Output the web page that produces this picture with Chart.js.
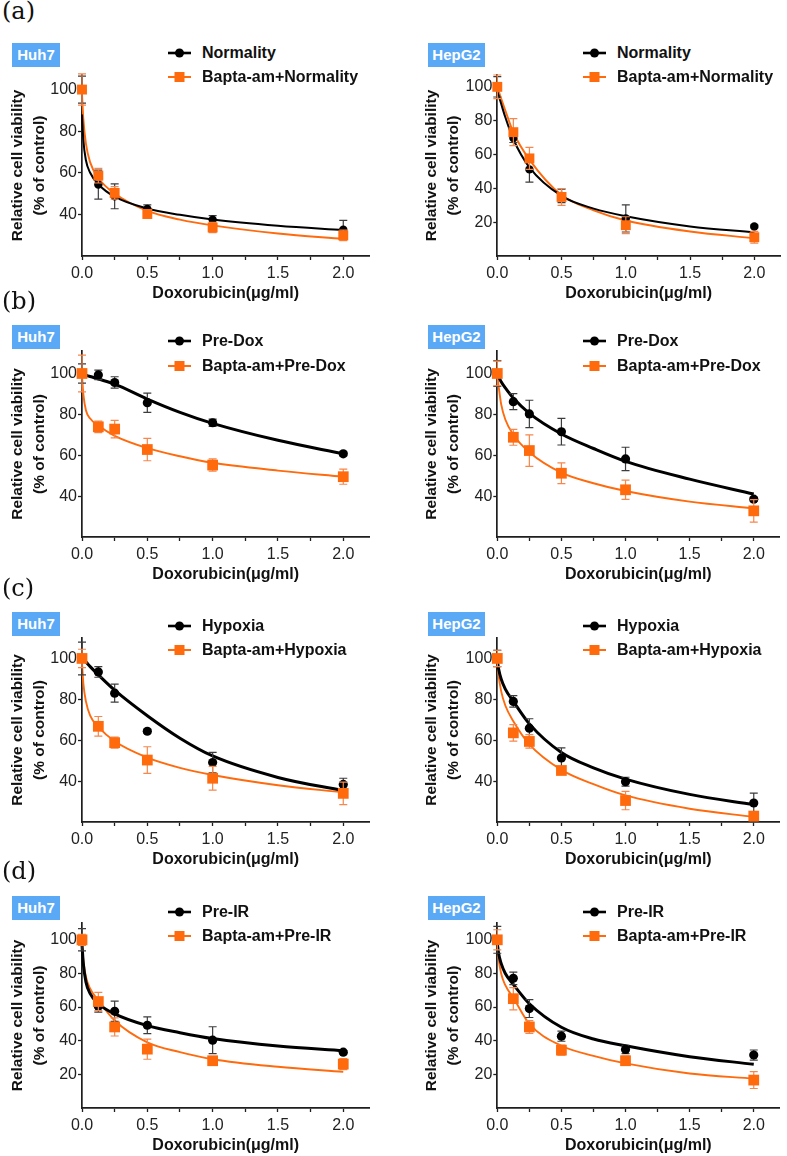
<!DOCTYPE html>
<html>
<head>
<meta charset="utf-8">
<script src="https://cdn.jsdelivr.net/npm/chart.js@4.4.1/dist/chart.umd.min.js"></script>
<style>
  body { margin: 0; background: #fff; width: 787px; height: 1156px; position: relative; overflow: hidden;
         font-family: "Liberation Sans", Arial, sans-serif; }
  canvas { position: absolute; }
  .tag { position: absolute; font-family: "DejaVu Serif", serif; font-size: 24px; color: #111; line-height: 24px; }
  .cell { position: absolute; background: #5aa9f6; color: #fff; font-weight: bold; font-size: 15px;
          height: 24px; line-height: 24px; text-align: center; }
  .leg { position: absolute; height: 20px; font-weight: bold; font-size: 16px; color: #111;
         white-space: nowrap; line-height: 20px; }
  .leg svg { position: absolute; left: 0; top: 3px; }
  .leg span { position: absolute; top: 0; }
</style>
</head>
<body>
<script>
const doses = [0, 0.125, 0.25, 0.5, 1, 2];
const fitDoses = [0, 0.01, 0.03, 0.0625, 0.125, 0.25, 0.5, 0.75, 1, 1.5, 2];
const xTickValues = [0, 0.25, 0.5, 0.75, 1, 1.25, 1.5, 1.75, 2];
const xTickLabels = ['0.0', '', '0.5', '', '1.0', '', '1.5', '', '2.0'];
const yTickValues = [20, 40, 60, 80, 100];
const rowTags = ['(a)', '(b)', '(c)', '(d)'];
const cellLines = ['Huh7', 'HepG2'];
const treatments = ['Normality', 'Pre-Dox', 'Hypoxia', 'Pre-IR'];

// (a) normality
const huh7NormMean = [100, 54.3, 48.7, 42.6, 37.4, 32.6];
const huh7NormSd = [6.5, 7, 6, 2, 2, 4.5];
const huh7NormFit = [88, 76, 66, 60, 54.5, 48.5, 42.8, 39.8, 37.5, 34.5, 32.4];
const huh7BaptaNormMean = [100, 58.6, 50.3, 40.2, 33.7, 29.9];
const huh7BaptaNormSd = [7.5, 3.5, 3, 2, 2.5, 2.5];
const huh7BaptaNormFit = [98, 86, 74, 65, 57.5, 50, 41.7, 37.5, 34.7, 30.8, 28.2];
const hepg2NormMean = [100, 69.8, 51.2, 35.5, 22.2, 17.4];
const hepg2NormSd = [6, 2.7, 7.5, 4, 8, 0.8];
const hepg2NormFit = [97, 95, 90, 82, 69, 52.4, 35.5, 28, 23.5, 17.5, 14];
const hepg2BaptaNormMean = [100, 73.2, 57.7, 34.9, 18.2, 11.1];
const hepg2BaptaNormSd = [7, 8, 6.5, 5, 5, 3.5];
const hepg2BaptaNormFit = [99, 97.5, 93, 86, 73, 57, 36, 27, 21, 14.5, 10.5];

// (b) pre-dox
const huh7DoxMean = [100, 99.3, 95.6, 85.7, 75.9, 60.7];
const huh7DoxSd = [4.7, 2.3, 2.8, 4.7, 1.8, 1];
const huh7DoxFit = [100, 99.7, 99.2, 98.5, 97.3, 94.8, 87.5, 81, 75.6, 67.3, 60.7];
const huh7BaptaDoxMean = [100, 73.9, 72.8, 62.8, 55.2, 49.5];
const huh7BaptaDoxSd = [9, 2.8, 4.3, 5.5, 3, 3.7];
const huh7BaptaDoxFit = [99, 90, 82, 78, 74.5, 69.5, 63.5, 59.5, 56.3, 52.5, 49.5];
const hepg2DoxMean = [100, 86.2, 80.2, 71.5, 58.2, 38.5];
const hepg2DoxSd = [6.3, 3.9, 6.7, 6.5, 5.7, 1];
const hepg2DoxFit = [100, 98.5, 96, 93, 88, 80.5, 70.4, 63.3, 57, 48.3, 41];
const hepg2BaptaDoxMean = [100, 68.8, 62.3, 51.2, 43.1, 32.8];
const hepg2BaptaDoxSd = [6, 3.9, 7.7, 5.1, 4.7, 5.5];
const hepg2BaptaDoxFit = [99, 94, 85, 77.5, 70, 61.5, 51.5, 46.3, 42.5, 37.3, 34];

// (c) hypoxia
const huh7HypMean = [100, 93.4, 83, 64.4, 49.1, 38.4];
const huh7HypSd = [8, 2.6, 4.4, 1, 5, 3];
const huh7HypFit = [100, 99.5, 98.3, 96, 92, 84.5, 72, 61, 52.3, 41.8, 35.3];
const huh7BaptaHypMean = [100, 66.8, 58.8, 50.3, 41.4, 34];
const huh7BaptaHypSd = [4.5, 4.8, 2.7, 6.5, 5.8, 5.5];
const huh7BaptaHypFit = [98, 88, 79, 72, 66.5, 59.5, 51.5, 46.5, 43, 38, 34.5];
const hepg2HypMean = [100, 79, 65.9, 51.3, 39.7, 29.3];
const hepg2HypSd = [4, 2.8, 4.6, 5, 2.2, 4.8];
const hepg2HypFit = [99, 95, 90, 85, 79, 68, 54, 46.5, 41, 33.5, 28.5];
const hepg2BaptaHypMean = [100, 63.6, 59.4, 45.2, 30.5, 22.9];
const hepg2BaptaHypSd = [4, 4, 3.3, 1.4, 4.5, 2.2];
const hepg2BaptaHypFit = [99, 92, 84, 77, 69.3, 58, 45.5, 38.5, 33, 26.5, 22.5];

// (d) pre-IR
const huh7IrMean = [100, 60.5, 57.5, 49.2, 40.3, 33.2];
const huh7IrSd = [6.6, 3.5, 6, 5, 8, 1];
const huh7IrFit = [97, 86, 75, 68, 62, 56, 49, 44.8, 41.3, 36.8, 34];
const huh7BaptaIrMean = [100, 63.3, 48.2, 35, 28.1, 26.1];
const huh7BaptaIrSd = [3.3, 5.4, 5.4, 6, 1, 3.3];
const huh7BaptaIrFit = [98, 88, 78, 71, 64, 52, 39, 33.2, 29, 24.5, 21.5];
const hepg2IrMean = [100, 77.1, 59.1, 42.7, 34.8, 31.5];
const hepg2IrSd = [8, 3.7, 5.3, 3, 2.5, 3];
const hepg2IrFit = [98, 92, 86, 80, 73.5, 62, 48, 41, 37, 30.5, 26];
const hepg2BaptaIrMean = [100, 65, 48.2, 34.4, 28.1, 16.6];
const hepg2BaptaIrSd = [6, 6.6, 3.8, 3, 2.7, 5];
const hepg2BaptaIrFit = [97, 89, 80, 73, 65.5, 50, 37, 31, 26.5, 20.5, 17.5];

// [row][col] -> [control, bapta]
const panelData = [
  [[[huh7NormMean, huh7NormSd, huh7NormFit], [huh7BaptaNormMean, huh7BaptaNormSd, huh7BaptaNormFit]],
   [[hepg2NormMean, hepg2NormSd, hepg2NormFit], [hepg2BaptaNormMean, hepg2BaptaNormSd, hepg2BaptaNormFit]]],
  [[[huh7DoxMean, huh7DoxSd, huh7DoxFit], [huh7BaptaDoxMean, huh7BaptaDoxSd, huh7BaptaDoxFit]],
   [[hepg2DoxMean, hepg2DoxSd, hepg2DoxFit], [hepg2BaptaDoxMean, hepg2BaptaDoxSd, hepg2BaptaDoxFit]]],
  [[[huh7HypMean, huh7HypSd, huh7HypFit], [huh7BaptaHypMean, huh7BaptaHypSd, huh7BaptaHypFit]],
   [[hepg2HypMean, hepg2HypSd, hepg2HypFit], [hepg2BaptaHypMean, hepg2BaptaHypSd, hepg2BaptaHypFit]]],
  [[[huh7IrMean, huh7IrSd, huh7IrFit], [huh7BaptaIrMean, huh7BaptaIrSd, huh7BaptaIrFit]],
   [[hepg2IrMean, hepg2IrSd, hepg2IrFit], [hepg2BaptaIrMean, hepg2BaptaIrSd, hepg2BaptaIrFit]]]
];

// layout (pixels)
const rows = [
  { top: 75,  bottom: 256,  tagY: -1,  boxY: 43,  legY: [53, 77],   yMin: [20, 0],  yMax: 107, fitW: 2 },
  { top: 351, bottom: 537,  tagY: 289, boxY: 325, legY: [341, 366], yMin: [20, 20], yMax: 111, fitW: 3 },
  { top: 638, bottom: 822,  tagY: 576, boxY: 612, legY: [626, 650], yMin: [20, 20], yMax: 110, fitW: 3 },
  { top: 923, bottom: 1108, tagY: 859, boxY: 896, legY: [912, 936], yMin: [0, 0],   yMax: 110, fitW: 3 }
];
const cols = [
  { left: 0,   width: 390, axisW: 82,   rightPad: 20.6, boxX: 12,  boxW: 48, legX: 168, textX: 202 },
  { left: 414, width: 373, axisW: 83.3, rightPad: 3.7,  boxX: 428, boxW: 57, legX: 583, textX: 617 }
];

const BLACK = '#000000';
const ORANGE = '#ff6a0d';
const AXIS = '#1e1e1e';
const FONT = '"Liberation Sans", Arial, sans-serif';
const PAD_TOP = 12;
const X_AXIS_H = 47;

const errorBars = {
  id: 'errorBars',
  beforeDatasetDraw(chart, args) {
    const ds = chart.data.datasets[args.index];
    if (!ds.sd) return;
    const xs = chart.scales.x, ys = chart.scales.y, ctx = chart.ctx;
    ctx.save();
    ctx.strokeStyle = ds.errColor;
    ctx.lineWidth = 1.2;
    ds.data.forEach((p, i) => {
      const x = xs.getPixelForValue(p.x);
      const t = ys.getPixelForValue(p.y + ds.sd[i]);
      const b = ys.getPixelForValue(p.y - ds.sd[i]);
      ctx.beginPath();
      ctx.moveTo(x, t); ctx.lineTo(x, b);
      ctx.moveTo(x - 4, t); ctx.lineTo(x + 4, t);
      ctx.moveTo(x - 4, b); ctx.lineTo(x + 4, b);
      ctx.stroke();
    });
    ctx.restore();
  }
};

function pts(xs, ys) {
  return xs.map((x, i) => ({ x: x, y: ys[i] }));
}

function addDiv(cls, text, css) {
  const d = document.createElement('div');
  d.className = cls;
  if (text) d.textContent = text;
  Object.assign(d.style, css);
  document.body.appendChild(d);
  return d;
}

function legendItem(x, textX, cy, label, isBapta) {
  const d = addDiv('leg', '', { left: x + 'px', top: (cy - 10) + 'px' });
  const w = 23;
  const mark = isBapta
    ? `<line x1="0" y1="7" x2="${w}" y2="7" stroke="${ORANGE}" stroke-width="2"/><rect x="${w / 2 - 5}" y="2" width="10" height="10" fill="${ORANGE}"/>`
    : `<line x1="0" y1="7" x2="${w}" y2="7" stroke="${BLACK}" stroke-width="2.6"/><circle cx="${w / 2}" cy="7" r="4.5" fill="${BLACK}"/>`;
  d.innerHTML = `<svg width="${w}" height="14">${mark}</svg><span style="left:${textX - x}px">${label}</span>`;
}

function makePanel(r, c) {
  const row = rows[r], col = cols[c];
  const [ctrl, bapta] = panelData[r][c];
  const yMin = row.yMin[c];
  const canvas = document.createElement('canvas');
  const top = row.top - PAD_TOP;
  const height = row.bottom + X_AXIS_H - top;
  canvas.width = col.width;
  canvas.height = height;
  canvas.style.left = col.left + 'px';
  canvas.style.top = top + 'px';
  document.body.appendChild(canvas);

  const tickFont = { family: FONT, size: 16 };
  const axisBase = {
    grid: { display: true, drawOnChartArea: false, drawTicks: true, tickLength: 4, tickColor: AXIS, tickWidth: 1.3 },
    border: { display: true, color: AXIS, width: 1.7 }
  };

  new Chart(canvas.getContext('2d'), {
    type: 'line',
    data: {
      datasets: [
        { data: pts(doses, bapta[0]), sd: bapta[1], errColor: '#f7874c', showLine: false,
          pointStyle: 'rect', pointRadius: r === 0 ? 7 : 7.6, backgroundColor: ORANGE, borderColor: ORANGE,
          borderWidth: 0, order: 0, clip: false },
        { data: pts(doses, ctrl[0]), sd: ctrl[1], errColor: '#3c3c3c', showLine: false,
          pointStyle: 'circle', pointRadius: r === 0 ? 4.2 : 4.6, backgroundColor: BLACK, borderColor: BLACK,
          borderWidth: 0, order: 1, clip: false },
        { data: pts(fitDoses, ctrl[2]), showLine: true, pointRadius: 0, borderColor: BLACK,
          borderWidth: row.fitW, cubicInterpolationMode: 'monotone', fill: false, order: 2, clip: false },
        { data: pts(fitDoses, bapta[2]), showLine: true, pointRadius: 0, borderColor: ORANGE,
          borderWidth: 1.9, cubicInterpolationMode: 'monotone', fill: false, order: 3, clip: false }
      ]
    },
    options: {
      responsive: false,
      animation: false,
      devicePixelRatio: 1,
      layout: { padding: { top: PAD_TOP, right: col.rightPad, bottom: 0, left: 0 } },
      plugins: { legend: { display: false }, tooltip: { enabled: false } },
      scales: {
        x: Object.assign({}, axisBase, {
          type: 'linear', min: 0, max: 2.2,
          afterBuildTicks: s => { s.ticks = xTickValues.map(v => ({ value: v })); },
          afterFit: s => { s.height = X_AXIS_H; },
          ticks: {
            autoSkip: false, maxRotation: 0, padding: 4, color: '#222', font: tickFont,
            callback: (v, i) => xTickLabels[i]
          },
          title: { display: true, text: 'Doxorubicin(μg/ml)', color: '#111',
                   font: { family: FONT, size: 16, weight: 'bold', lineHeight: 1.2 }, padding: 0 }
        }),
        y: Object.assign({}, axisBase, {
          type: 'linear', min: yMin, max: row.yMax,
          afterBuildTicks: s => { s.ticks = yTickValues.filter(v => v > yMin).map(v => ({ value: v })); },
          afterFit: s => { s.width = col.axisW; },
          ticks: { autoSkip: false, padding: 1, color: '#222', font: tickFont, callback: v => String(v) },
          title: { display: true, text: ['Relative cell viability', '(% of control)'], color: '#111',
                   font: { family: FONT, size: 15.5, weight: 'bold', lineHeight: 1.4 }, padding: { top: 7, bottom: 0 } }
        })
      }
    },
    plugins: [errorBars]
  });

  addDiv('cell', cellLines[c], { left: col.boxX + 'px', top: row.boxY + 'px', width: col.boxW + 'px' });
  legendItem(col.legX, col.textX, row.legY[0], treatments[r], false);
  legendItem(col.legX, col.textX, row.legY[1], 'Bapta-am+' + treatments[r], true);
}

rows.forEach((row, r) => {
  addDiv('tag', rowTags[r], { left: '2px', top: row.tagY + 'px' });
  cols.forEach((col, c) => makePanel(r, c));
});
</script>
</body>
</html>
